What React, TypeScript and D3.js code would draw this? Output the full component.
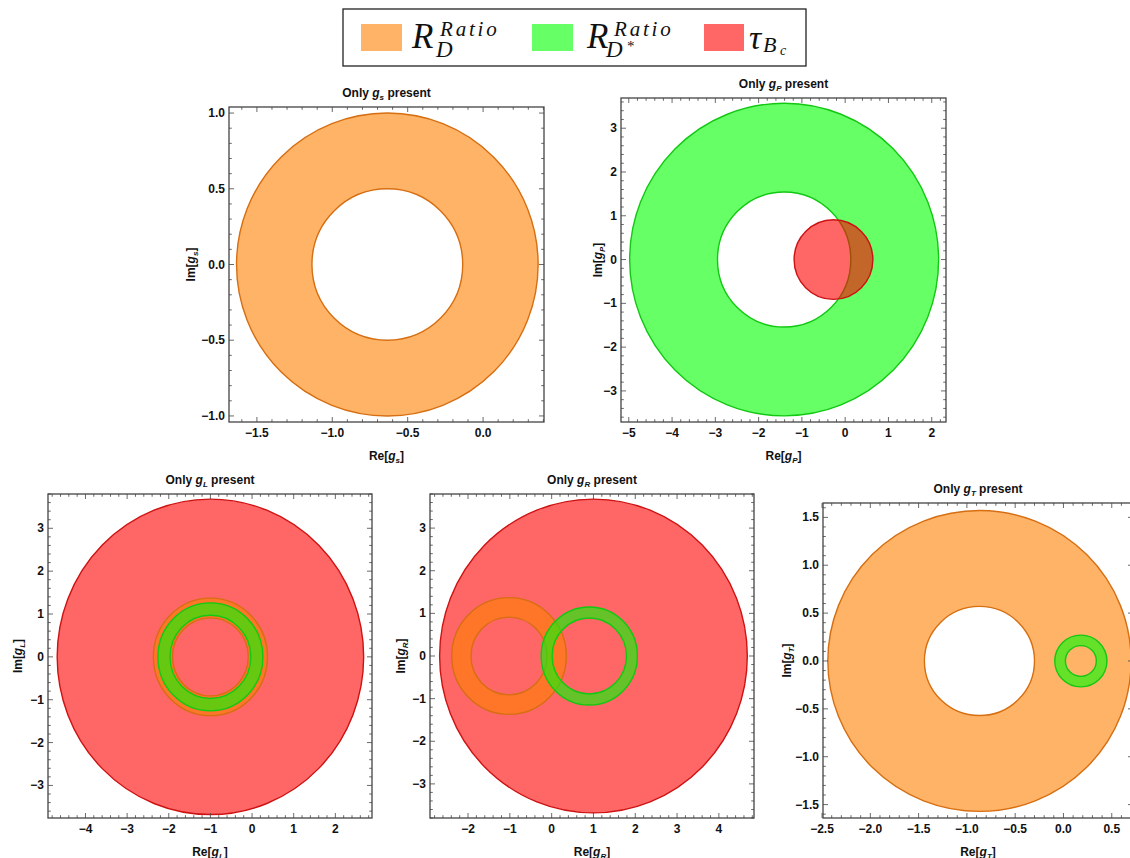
import React from "react";
import * as d3 from "d3";

const W = 1130;
const H = 858;

// ---- data ----
const panelSub = ["s", "P", "L", "R", "T"];
const panelXDomain = [
  [-1.685, 0.404],
  [-5.18, 2.33],
  [-4.9, 2.88],
  [-2.91, 4.84],
  [-2.49, 0.72],
];
const panelYDomain = [
  [-1.04, 1.04],
  [-3.71, 3.69],
  [-3.76, 3.8],
  [-3.8, 3.8],
  [-1.64, 1.65],
];
const panelXMajor = [
  [-1.5, -1, -0.5, 0],
  [-5, -4, -3, -2, -1, 0, 1, 2],
  [-4, -3, -2, -1, 0, 1, 2],
  [-2, -1, 0, 1, 2, 3, 4],
  [-2.5, -2, -1.5, -1, -0.5, 0, 0.5],
];
const panelYMajor = [
  [-1, -0.5, 0, 0.5, 1],
  [-3, -2, -1, 0, 1, 2, 3],
  [-3, -2, -1, 0, 1, 2, 3],
  [-3, -2, -1, 0, 1, 2, 3],
  [-1.5, -1, -0.5, 0, 0.5, 1, 1.5],
];
const panelMinorStep = [0.1, 0.2, 0.2, 0.2, 0.1];
const panelDecimals = [1, 0, 0, 0, 1];

// regions: annuli (rIn = 0 -> disk), centred on the real axis
const orangeRegions = [
  { panel: 0, cx: -0.635, rIn: 0.5, rOut: 1.0 },
  { panel: 2, cx: -1.0, rIn: 0.91, rOut: 1.37 },
  { panel: 3, cx: -1.02, rIn: 0.91, rOut: 1.37 },
  { panel: 4, cx: -0.87, rIn: 0.57, rOut: 1.57 },
];
const greenRegions = [
  { panel: 1, cx: -1.41, rIn: 1.54, rOut: 3.57 },
  { panel: 2, cx: -1.0, rIn: 0.97, rOut: 1.26 },
  { panel: 3, cx: 0.9, rIn: 0.89, rOut: 1.15 },
  { panel: 4, cx: 0.18, rIn: 0.16, rOut: 0.27 },
];
const redRegions = [
  { panel: 1, cx: -0.27, rIn: 0, rOut: 0.91 },
  { panel: 2, cx: -1.0, rIn: 0, rOut: 3.68 },
  { panel: 3, cx: 1.0, rIn: 0, rOut: 3.68 },
];
const panelLayerOrder = [
  ["RD"],
  ["RDs", "tau"],
  ["tau", "RD", "RDs"],
  ["tau", "RD", "RDs"],
  ["RD", "RDs"],
];

// ---- styles / layout ----
const SERIES: Record<string, { regions: any[]; fill: string; edge: string }> = {
  RD: { regions: orangeRegions, fill: "rgb(255,128,0)", edge: "rgb(214,110,18)" },
  RDs: { regions: greenRegions, fill: "rgb(0,255,0)", edge: "rgb(18,200,18)" },
  tau: { regions: redRegions, fill: "rgb(255,0,0)", edge: "rgb(205,18,18)" },
};

const LAYOUT = [
  { l: 229, r: 544, t: 107, b: 422, yl: 195 },
  { l: 621, r: 946, t: 98, b: 422, yl: 602 },
  { l: 48, r: 372, t: 494, b: 818, yl: 22 },
  { l: 430, r: 754, t: 494, b: 818, yl: 405 },
  { l: 823, r: 1133, t: 503, b: 818, yl: 791 },
];

const FONT = "'Liberation Sans', Arial, Helvetica, sans-serif";
const SERIF = "'Liberation Serif', 'Times New Roman', serif";
const FRAME = "#444";

function ellipse(xs: any, ys: any, cx: number, r: number) {
  const x0 = xs(cx - r);
  const x1 = xs(cx + r);
  const y = ys(0);
  const rx = (x1 - x0) / 2;
  const ry = Math.abs(ys(r) - ys(0));
  return `M${x0},${y}A${rx},${ry} 0 1 0 ${x1},${y}A${rx},${ry} 0 1 0 ${x0},${y}Z`;
}

function fmt(v: number, dec: number) {
  const s = Math.abs(v).toFixed(dec);
  return (v < -1e-9 ? "\u2212" : "") + s;
}

function minorTicks(domain: number[], step: number, major: number[]) {
  const a = Math.ceil(domain[0] / step - 1e-9);
  const b = Math.floor(domain[1] / step + 1e-9);
  return d3
    .range(a, b + 1)
    .map((k) => +(k * step).toFixed(6))
    .filter((v) => !major.some((m) => Math.abs(m - v) < 1e-6));
}

function Panel({ i }: { i: number }) {
  const L = LAYOUT[i];
  const xs = d3.scaleLinear().domain(panelXDomain[i]).range([L.l, L.r]);
  const ys = d3.scaleLinear().domain(panelYDomain[i]).range([L.b, L.t]);
  const sub = panelSub[i];
  const xMinor = minorTicks(panelXDomain[i], panelMinorStep[i], panelXMajor[i]);
  const yMinor = minorTicks(panelYDomain[i], panelMinorStep[i], panelYMajor[i]);
  const MAJ = 5;
  const MIN = 2.8;
  const cx = (L.l + L.r) / 2;
  const cy = (L.t + L.b) / 2;
  const clipId = `clip${i}`;

  return (
    <g>
      <defs>
        <clipPath id={clipId}>
          <rect x={L.l} y={L.t} width={L.r - L.l} height={L.b - L.t} />
        </clipPath>
      </defs>
      <g clipPath={`url(#${clipId})`}>
        {panelLayerOrder[i].map((key) => {
          const s = SERIES[key];
          return s.regions
            .filter((r) => r.panel === i)
            .map((r, k) => {
              const d = ellipse(xs, ys, r.cx, r.rOut) + (r.rIn > 0 ? ellipse(xs, ys, r.cx, r.rIn) : "");
              return (
                <g key={key + k}>
                  <path d={d} fill={s.fill} fillOpacity={0.6} fillRule="evenodd" stroke="none" />
                  <path d={d} fill="none" stroke={s.edge} strokeWidth={1.4} />
                </g>
              );
            });
        })}
      </g>
      {/* ticks */}
      <g stroke={FRAME} strokeWidth={0.8}>
        {panelXMajor[i].map((v) => (
          <g key={"xM" + v}>
            <line x1={xs(v)} x2={xs(v)} y1={L.b} y2={L.b - MAJ} />
            <line x1={xs(v)} x2={xs(v)} y1={L.t} y2={L.t + MAJ} />
          </g>
        ))}
        {xMinor.map((v) => (
          <g key={"xm" + v}>
            <line x1={xs(v)} x2={xs(v)} y1={L.b} y2={L.b - MIN} />
            <line x1={xs(v)} x2={xs(v)} y1={L.t} y2={L.t + MIN} />
          </g>
        ))}
        {panelYMajor[i].map((v) => (
          <g key={"yM" + v}>
            <line x1={L.l} x2={L.l + MAJ} y1={ys(v)} y2={ys(v)} />
            <line x1={L.r} x2={L.r - MAJ} y1={ys(v)} y2={ys(v)} />
          </g>
        ))}
        {yMinor.map((v) => (
          <g key={"ym" + v}>
            <line x1={L.l} x2={L.l + MIN} y1={ys(v)} y2={ys(v)} />
            <line x1={L.r} x2={L.r - MIN} y1={ys(v)} y2={ys(v)} />
          </g>
        ))}
      </g>
      <rect x={L.l} y={L.t} width={L.r - L.l} height={L.b - L.t} fill="none" stroke={FRAME} strokeWidth={1.3} />
      {/* tick labels */}
      <g fontFamily={FONT} fontWeight="bold" fontSize={12} fill="#111">
        {panelXMajor[i].map((v) => (
          <text key={"xl" + v} x={xs(v)} y={L.b + 15} textAnchor="middle">
            {fmt(v, panelDecimals[i])}
          </text>
        ))}
        {panelYMajor[i].map((v) => (
          <text key={"yl" + v} x={L.l - 4} y={ys(v) + 4} textAnchor="end">
            {fmt(v, panelDecimals[i])}
          </text>
        ))}
      </g>
      {/* title */}
      <text x={cx} y={L.t - 10} textAnchor="middle" fontFamily={FONT} fontWeight="bold" fontSize={12} fill="#111">
        <tspan>Only </tspan>
        <tspan fontStyle="italic">g</tspan>
        <tspan fontStyle="italic" fontSize={8} dy={3}>{sub}</tspan>
        <tspan dy={-3}> present</tspan>
      </text>
      {/* x label */}
      <text x={cx} y={L.b + 38} textAnchor="middle" fontFamily={FONT} fontWeight="bold" fontSize={12} fill="#111">
        <tspan>Re[</tspan>
        <tspan fontStyle="italic">g</tspan>
        <tspan fontStyle="italic" fontSize={8} dy={3}>{sub}</tspan>
        <tspan dy={-3}>]</tspan>
      </text>
      {/* y label */}
      <text
        transform={`translate(${L.yl},${cy}) rotate(-90)`}
        textAnchor="middle"
        fontFamily={FONT}
        fontWeight="bold"
        fontSize={12}
        fill="#111"
      >
        <tspan>Im[</tspan>
        <tspan fontStyle="italic">g</tspan>
        <tspan fontStyle="italic" fontSize={8} dy={3}>{sub}</tspan>
        <tspan dy={-3}>]</tspan>
      </text>
    </g>
  );
}

function Legend() {
  return (
    <g>
      <rect x={343} y={9} width={463} height={57} fill="#fff" stroke="#222" strokeWidth={1.3} />
      <rect x={361} y={24} width={41} height={27} fill="rgb(255,128,0)" fillOpacity={0.6} />
      <rect x={532} y={24} width={41} height={27} fill="rgb(0,255,0)" fillOpacity={0.6} />
      <rect x={704} y={24} width={40} height={27} fill="rgb(255,0,0)" fillOpacity={0.6} />
      <g fontFamily={SERIF} fontStyle="italic" fill="#111">
        <text x={412} y={48} fontSize={35}>R</text>
        <text x={440} y={36} fontSize={21} letterSpacing={2.8}>Ratio</text>
        <text x={436} y={57} fontSize={23}>D</text>

        <text x={587} y={48} fontSize={35}>R</text>
        <text x={614} y={36} fontSize={21} letterSpacing={2.8}>Ratio</text>
        <text x={606} y={57} fontSize={23}>D</text>
        <text x={627} y={51} fontSize={15} fontStyle="normal">*</text>

        <text x={749} y={49} fontSize={34}>τ</text>
        <text x={763} y={52} fontSize={22}>B</text>
        <text x={780} y={55} fontSize={14}>c</text>
      </g>
    </g>
  );
}

export default function App() {
  return (
    <svg
      width={W}
      height={H}
      viewBox={`0 0 ${W} ${H}`}
      style={{ position: "absolute", left: 0, top: 0, background: "#fff" }}
    >
      <rect x={0} y={0} width={W} height={H} fill="#fff" />
      <Legend />
      {panelSub.map((_, i) => (
        <Panel key={i} i={i} />
      ))}
    </svg>
  );
}
